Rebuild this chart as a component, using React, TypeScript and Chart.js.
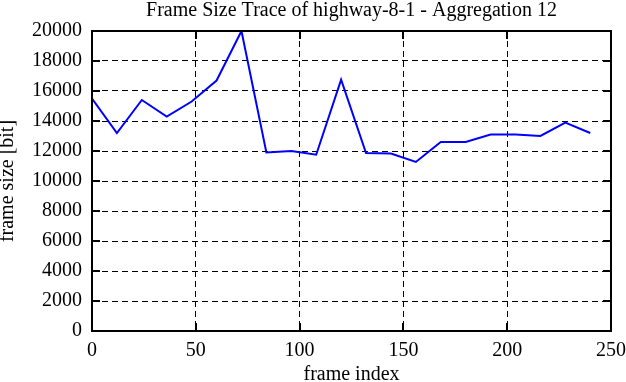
import React, { useEffect, useRef } from "react";
import { Chart, registerables } from "chart.js";

Chart.register(...registerables);

const TITLE = "Frame Size Trace of highway-8-1 - Aggregation 12";
const X_LABEL = "frame index";
const Y_LABEL = "frame size [bit]";
const FRAME_INDEX = [0, 12, 24, 36, 48, 60, 72, 84, 96, 108, 120, 132, 144, 156, 168, 180, 192, 204, 216, 228, 240];
const FRAME_SIZE = [15500, 13200, 15400, 14300, 15300, 16700, 20000, 11900, 12000, 11750, 16750, 11870, 11830, 11270, 12600, 12600, 13100, 13100, 13000, 13900, 13200];
const X_MIN = 0, X_MAX = 250, X_STEP = 50;
const Y_MIN = 0, Y_MAX = 20000, Y_STEP = 2000;

const FONT = "'Liberation Serif', 'Times New Roman', serif";
const FS = 20;

const framePlugin = {
  id: "gnuplotFrame",
  afterDraw(chart: any) {
    const { ctx, chartArea } = chart;
    const { left, right, top, bottom } = chartArea;
    const xs = chart.scales.x;
    const ys = chart.scales.y;
    const tl = 8;
    ctx.save();
    ctx.strokeStyle = "#000";
    ctx.lineWidth = 2;
    ctx.setLineDash([]);
    ctx.beginPath();
    xs.ticks.forEach((t: any) => {
      const px = Math.round(xs.getPixelForValue(t.value));
      ctx.moveTo(px, bottom);
      ctx.lineTo(px, bottom - tl);
      ctx.moveTo(px, top);
      ctx.lineTo(px, top + tl);
    });
    ys.ticks.forEach((t: any) => {
      const py = Math.round(ys.getPixelForValue(t.value));
      ctx.moveTo(left, py);
      ctx.lineTo(left + tl, py);
      ctx.moveTo(right, py);
      ctx.lineTo(right - tl, py);
    });
    ctx.stroke();
    ctx.strokeRect(left, top, right - left, bottom - top);
    ctx.restore();
  },
};

export default function App() {
  const ref = useRef<HTMLCanvasElement | null>(null);
  useEffect(() => {
    document.body.style.margin = "0";
    const canvas = ref.current!;
    const chart = new Chart(canvas, {
      type: "line",
      data: {
        datasets: [
          {
            data: FRAME_INDEX.map((x, i) => ({ x, y: FRAME_SIZE[i] })),
            borderColor: "#0000ff",
            borderWidth: 2,
            pointRadius: 0,
            tension: 0,
            fill: false,
          },
        ],
      },
      options: {
        animation: false,
        responsive: false,
        maintainAspectRatio: false,
        layout: { padding: { left: 0, right: 15, top: 0, bottom: 0 } },
        plugins: {
          legend: { display: false },
          tooltip: { enabled: false },
          title: {
            display: true,
            text: TITLE,
            color: "#000",
            fullSize: false,
            font: { family: FONT, size: FS, weight: "normal", lineHeight: 1.1 },
            padding: { top: 0, bottom: 9 },
          },
        },
        scales: {
          x: {
            type: "linear",
            min: X_MIN,
            max: X_MAX,
            border: { display: false, dash: [6, 4] },
            grid: { color: "#000", lineWidth: 1, drawTicks: false },
            ticks: {
              stepSize: X_STEP,
              color: "#000",
              padding: 8,
              maxRotation: 0,
              font: { family: FONT, size: FS },
              callback: (v: any) => String(v),
            },
            title: {
              display: true,
              text: X_LABEL,
              color: "#000",
              font: { family: FONT, size: FS, lineHeight: 0.7 },
              padding: 0,
            },
            afterFit(scale: any) {
              scale.height = 51;
              scale.paddingLeft = 0;
              scale.paddingRight = 0;
            },
          } as any,
          y: {
            type: "linear",
            min: Y_MIN,
            max: Y_MAX,
            border: { display: false, dash: [6, 4] },
            grid: { color: "#000", lineWidth: 1, drawTicks: false },
            ticks: {
              stepSize: Y_STEP,
              color: "#000",
              padding: 10,
              font: { family: FONT, size: FS },
              callback: (v: any) => String(v),
            },
            title: {
              display: true,
              text: Y_LABEL,
              color: "#000",
              font: { family: FONT, size: FS, lineHeight: 0.75 },
              padding: 0,
            },
            afterFit(scale: any) {
              scale.width = 92;
              scale.paddingTop = 0;
              scale.paddingBottom = 0;
            },
          } as any,
        },
      },
      plugins: [framePlugin],
    } as any);
    return () => chart.destroy();
  }, []);
  return (
    <div style={{ position: "absolute", left: 0, top: 0, width: 626, height: 382 }}>
      <canvas ref={ref} width={626} height={382} style={{ display: "block", width: 626, height: 382 }} />
    </div>
  );
}
